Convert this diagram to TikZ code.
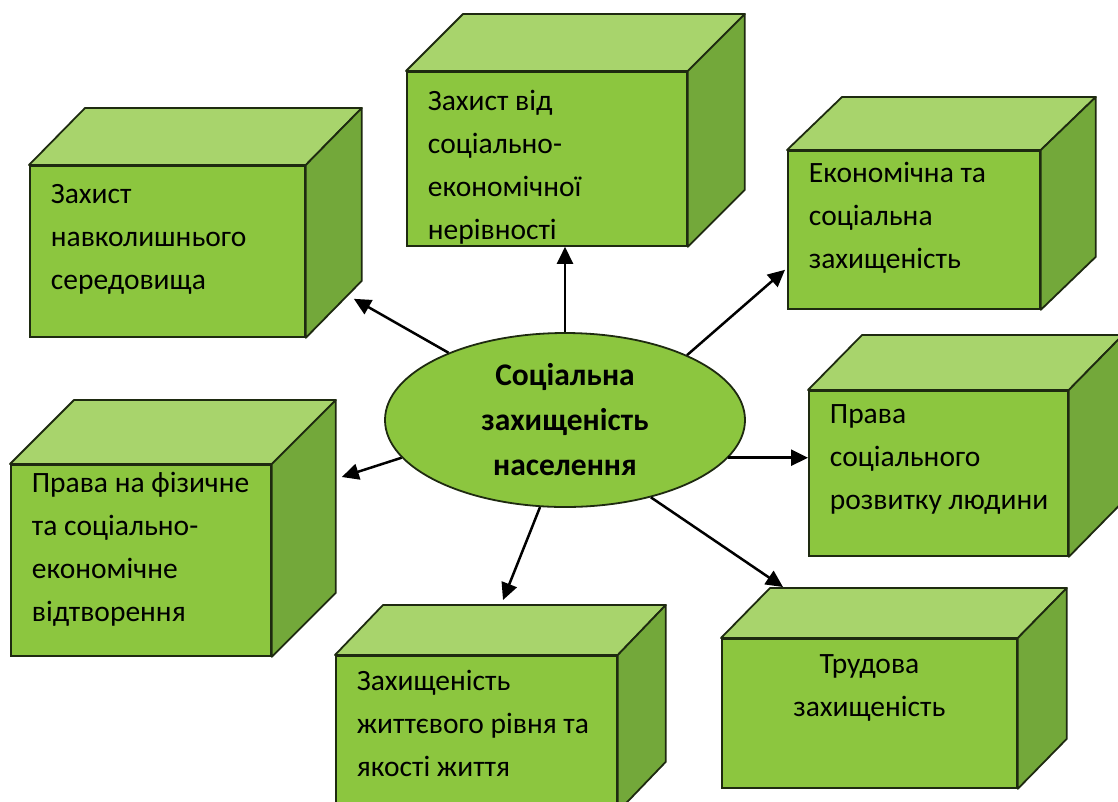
\documentclass[tikz,border=0pt]{standalone}
\usepackage{fontspec}
\setmainfont{Carlito}
\usetikzlibrary{shapes.geometric, arrows.meta, positioning, calc}
\definecolor{FrontGreen}{HTML}{8CC63F}
\definecolor{TopGreen}{HTML}{A8D46C}
\definecolor{SideGreen}{HTML}{73A83A}
\definecolor{EdgeDark}{HTML}{1E2A10}
\tikzset{
    % Cube faces
    frontface/.style={
        rectangle,
        draw=EdgeDark,
        fill=FrontGreen,
        line width=1.8pt,
        inner sep=0pt,
        anchor=north west
    },
    topface/.style={
        draw=EdgeDark,
        fill=TopGreen,
        line width=1.8pt,
        line join=round
    },
    sideface/.style={
        draw=EdgeDark,
        fill=SideGreen,
        line width=1.8pt,
        line join=round
    },
    % Centre ellipse
    hubnode/.style={
        ellipse,
        draw=EdgeDark,
        fill=FrontGreen,
        line width=1.8pt,
        minimum width=360pt,
        minimum height=174pt,
        align=center,
        font=\fontsize{31.5}{45}\selectfont\bfseries
    },
    % Arrow style
    myarrow/.style={
        -{Triangle[length=17pt,width=16pt]},
        line width=2.5pt,
        black
    }
}
% text of a front face: width, height, first baseline, lines
\newcommand{\boxtext}[4]{%
    \parbox[c][#2pt][t]{#1pt}{\fontsize{29.5}{43}\selectfont\raggedright\leftskip=21pt\rule{0pt}{#3pt}#4}}
% top and right faces of a cube: node, depth x, depth y
\newcommand{\cubefaces}[3]{%
    \draw[topface] (#1.north west) -- ++(#2,#3) -- ($(#1.north east)+(#2,#3)$) -- (#1.north east) -- cycle;
    \draw[sideface] (#1.north east) -- ++(#2,#3) -- ($(#1.south east)+(#2,#3)$) -- (#1.south east) -- cycle;}
\begin{document}
\begin{tikzpicture}[x=1pt, y=-1pt]
    \useasboundingbox (0,0) rectangle (1118,801);

    % Boxes
    \node[frontface] (b1) at (29,165) {\boxtext{275}{171}{38}{Захист\\навколишнього\\середовища}};
    \cubefaces{b1}{56}{-57}
    \node[frontface] (b2) at (406,71) {\boxtext{280}{174}{39}{Захист від\\соціально-\\економічної\\нерівності}};
    \cubefaces{b2}{57}{-57}
    \node[frontface] (b3) at (787,150) {\boxtext{252}{158}{32}{Економічна та\\соціальна\\захищеність}};
    \cubefaces{b3}{55}{-53}
    \node[frontface] (b4) at (808,390) {\boxtext{259}{165}{33}{Права\\соціального\\розвитку людини}};
    \cubefaces{b4}{54}{-55}
    \node[frontface] (b5) at (10,464) {\boxtext{260}{191}{28}{Права на фізичне\\та соціально-\\економічне\\відтворення}};
    \cubefaces{b5}{64}{-64}
    \node[frontface] (b6) at (335,655) {\boxtext{281}{155}{35}{Захищеність\\життєвого рівня та\\якості життя}};
    \cubefaces{b6}{48}{-50}
    \node[frontface] (b7) at (721,638) {\boxtext{295}{149}{35}{\centering Трудова\\захищеність}};
    \cubefaces{b7}{49}{-50}

    % Centre
    \node[hubnode] (hub) at (565,420) {Соціальна\\захищеність\\населення};

    % Arrow ends
    \coordinate (tip1) at ($(b1.south east)+(48,-39)$);
    \coordinate (tip3) at ($(b3.south west)+(-2,-40)$);
    \coordinate (tip5) at ($(b5.north east)+(70,13)$);
    \coordinate (tip6) at ($(b6.north west)+(168,-55)$);
    \coordinate (tip7) at ($(b7.north west)+(62,-51)$);

    % Arrows
    \draw[myarrow] (hub.150) -- (tip1);
    \draw[myarrow] (hub.north) -- (hub.north |- b2.south);
    \draw[myarrow] (hub.28) -- (tip3);
    \draw[myarrow] (hub.-13) -- (hub.-13 -| b4.west);
    \draw[myarrow] (hub.-42) -- (tip7);
    \draw[myarrow] (hub.-106) -- (tip6);
    \draw[myarrow] (hub.193) -- (tip5);
\end{tikzpicture}
\end{document}
